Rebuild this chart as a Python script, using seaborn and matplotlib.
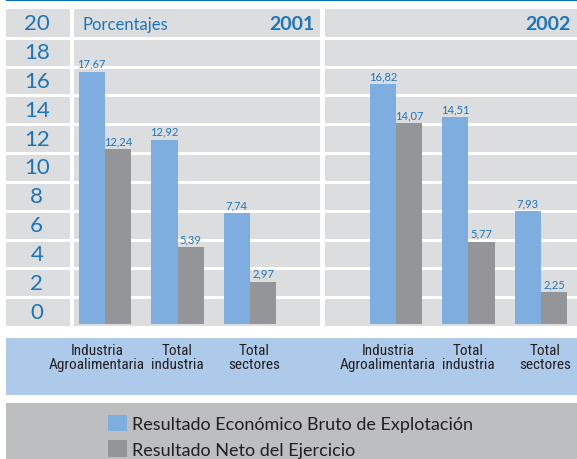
import matplotlib
matplotlib.use("Agg")
import matplotlib.pyplot as plt
from matplotlib.patches import Rectangle
from matplotlib.transforms import ScaledTranslation
import pandas as pd
import seaborn as sns

# ------------------------------------------------------------------
# Data (percentages)
# ------------------------------------------------------------------
years = ["2001", "2002"]
categories = ["Industria\nAgroalimentaria", "Total\nindustria", "Total\nsectores"]
series = ["Resultado Económico Bruto de Explotación", "Resultado Neto del Ejercicio"]
bruto_2001 = [17.67, 12.92, 7.74]
neto_2001 = [12.24, 5.39, 2.97]
bruto_2002 = [16.82, 14.51, 7.93]
neto_2002 = [14.07, 5.77, 2.25]
y_labels = [0, 2, 4, 6, 8, 10, 12, 14, 16, 18, 20]

# colours
BAR_BLUE = "#7EADDF"
BAR_GRAY = "#939598"
TEXT_BLUE = "#1B75BB"
TEXT_DARK = "#231F20"
PANEL_BG = "#DCDDDF"
BAND_BLUE = "#AECAEA"
BAND_GRAY = "#BDBEC0"
LINE_BLUE = "#0072BC"

W, H = 577, 460
Y_LO, Y_HI = -0.14, 22.06
N_ROWS = 11
LABEL_SHIFT_PX = [-8, 0, 4]   # small horizontal nudges of the category labels

sns.set_style("white")
plt.rcParams["font.family"] = ["Lato", "DejaVu Sans"]


def px_axes(fig, x0, y0, x1, y1):
    """Add an axes given pixel coordinates measured from the top-left corner."""
    return fig.add_axes([x0 / W, 1 - y1 / H, (x1 - x0) / W, (y1 - y0) / H])


def fig_rect(fig, x0, y0, x1, y1, color):
    fig.add_artist(Rectangle((x0 / W, 1 - y1 / H), (x1 - x0) / W, (y1 - y0) / H,
                             transform=fig.transFigure, facecolor=color,
                             edgecolor="none", zorder=-1))


def build_frame(bruto, neto):
    return pd.DataFrame({
        "categoria": categories * 2,
        "serie": [series[0]] * len(bruto) + [series[1]] * len(neto),
        "valor": bruto + neto,
    })


def style_panel(ax, xlim):
    ax.set_facecolor(PANEL_BG)
    ax.set_ylim(Y_LO, Y_HI)
    ax.set_xlim(*xlim)
    rows = [Y_LO + (Y_HI - Y_LO) * k / N_ROWS for k in range(1, N_ROWS)]
    ax.set_yticks(rows)
    ax.set_yticklabels([])
    ax.grid(axis="y", color="white", lw=2.2)
    ax.set_axisbelow(True)
    ax.tick_params(axis="y", length=0)
    ax.tick_params(axis="x", length=0, pad=12)
    for lab, dx in zip(ax.get_xticklabels(), LABEL_SHIFT_PX):
        lab.set_fontfamily(["Roboto Condensed", "DejaVu Sans"])
        lab.set_fontstretch("condensed")
        lab.set_fontsize(11)
        lab.set_color(TEXT_DARK)
        lab.set_linespacing(1.0)
        lab.set_transform(lab.get_transform()
                          + ScaledTranslation(dx / 100, 0, ax.figure.dpi_scale_trans))
    ax.set_xlabel("")
    ax.set_ylabel("")
    for s in ax.spines.values():
        s.set_visible(False)
    for cont in ax.containers:
        ax.bar_label(cont, fmt=lambda v: f"{v:.2f}".replace(".", ","),
                     padding=2, color=TEXT_BLUE, fontsize=8)


fig = plt.figure(figsize=(W / 100, H / 100), dpi=100)

# background bands
fig_rect(fig, 6, 0, W, 1.6, LINE_BLUE)
fig_rect(fig, 6, 339, W, 396, BAND_BLUE)
fig_rect(fig, 6, 404, W, H, BAND_GRAY)

# left column with the scale values
ax_lab = px_axes(fig, 6, 10, 70, 327)
ax_lab.set_facecolor(PANEL_BG)
ax_lab.set_ylim(0, N_ROWS)
ax_lab.set_xlim(0, 1)
ax_lab.set_yticks(range(1, N_ROWS))
ax_lab.set_yticklabels([])
ax_lab.set_xticks([])
ax_lab.grid(axis="y", color="white", lw=2.2)
ax_lab.tick_params(length=0)
for s in ax_lab.spines.values():
    s.set_visible(False)
for i, v in enumerate(y_labels):
    ax_lab.text(0.48, i + 0.5, str(v), ha="center", va="center",
                color=TEXT_BLUE, fontsize=16)

palette = [BAR_BLUE, BAR_GRAY]

# 2001 panel
ax1 = px_axes(fig, 74, 10, 320, 327)
sns.barplot(data=build_frame(bruto_2001, neto_2001), x="categoria", y="valor",
            hue="serie", palette=palette, width=0.73, linewidth=0,
            saturation=1, ax=ax1)
handles, labels = ax1.get_legend_handles_labels()
ax1.legend_.remove()
style_panel(ax1, (-0.428, 2.966))

# 2002 panel
ax2 = px_axes(fig, 325, 10, W, 327)
sns.barplot(data=build_frame(bruto_2002, neto_2002), x="categoria", y="valor",
            hue="serie", palette=palette, width=0.73, linewidth=0,
            saturation=1, legend=False, ax=ax2)
style_panel(ax2, (-0.979, 2.497))

# panel headers
fig.text(82 / W, 1 - 25 / H, "Porcentajes", ha="left", va="center",
         color=TEXT_BLUE, fontsize=12)
fig.text(315 / W, 1 - 25 / H, years[0], ha="right", va="center",
         color=TEXT_BLUE, fontsize=14, fontweight="bold")
fig.text(571 / W, 1 - 25 / H, years[1], ha="right", va="center",
         color=TEXT_BLUE, fontsize=14, fontweight="bold")

# legend in the gray band
fig.legend(handles, labels, loc="upper left",
           bbox_to_anchor=(108 / W, 1 - 416 / H), frameon=False,
           fontsize=13, handlelength=1.05, handleheight=1.0,
           handletextpad=0.3, labelspacing=0.45, borderpad=0,
           borderaxespad=0, labelcolor=TEXT_DARK)

fig.savefig("out.png", dpi=100)
